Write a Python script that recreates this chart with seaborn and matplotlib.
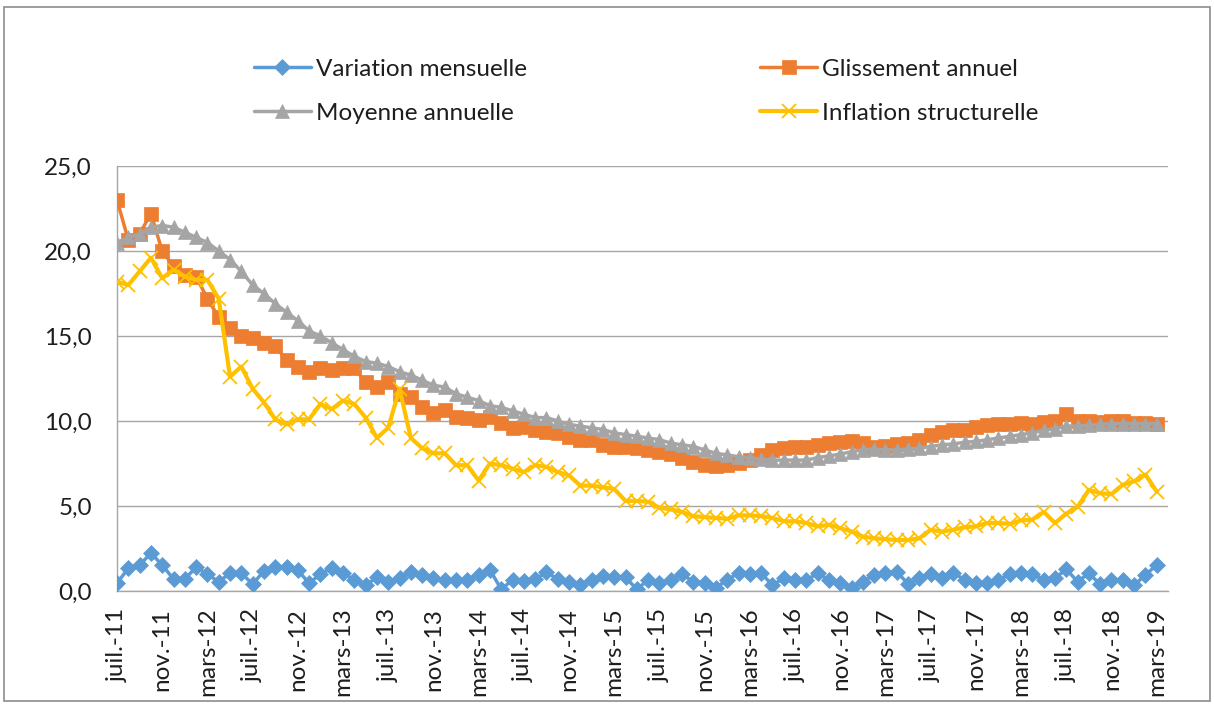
import numpy as np
import pandas as pd
import matplotlib
matplotlib.use("Agg")
import matplotlib.pyplot as plt
import matplotlib.patches as patches
import seaborn as sns

# monthly series, juil.-11 .. mars-19 (93 months)
months = ["janv.", "févr.", "mars", "avr.", "mai", "juin",
          "juil.", "août", "sept.", "oct.", "nov.", "déc."]
labels = ["%s-%02d" % (months[(6 + i) % 12], (11 + (6 + i) // 12)) for i in range(93)]

variation_mensuelle = [
    0.45, 1.35, 1.53, 2.22, 1.53, 0.70, 0.70, 1.40, 1.00, 0.53,
    1.06, 1.06, 0.40, 1.18, 1.41, 1.41, 1.23, 0.45, 1.00, 1.35,
    1.06, 0.65, 0.35, 0.80, 0.53, 0.76, 1.12, 0.94, 0.76, 0.65,
    0.65, 0.65, 0.94, 1.25, 0.10, 0.65, 0.60, 0.70, 1.10, 0.70,
    0.55, 0.35, 0.65, 0.90, 0.80, 0.80, 0.10, 0.65, 0.45, 0.65,
    0.98, 0.55, 0.45, 0.20, 0.65, 1.08, 0.98, 1.04, 0.35, 0.75,
    0.65, 0.65, 1.04, 0.65, 0.45, 0.20, 0.55, 0.94, 1.08, 1.14,
    0.41, 0.75, 0.98, 0.75, 1.08, 0.65, 0.45, 0.45, 0.65, 0.98,
    1.04, 0.98, 0.65, 0.75, 1.28, 0.55, 1.04, 0.39, 0.65, 0.65,
    0.35, 0.94, 1.53]

glissement_annuel = [
    23.0, 20.65, 21.0, 22.2, 20.0, 19.1, 18.6, 18.5, 17.2, 16.1,
    15.5, 15.0, 14.9, 14.6, 14.4, 13.6, 13.2, 12.9, 13.1, 13.0,
    13.1, 13.1, 12.3, 12.0, 12.3, 11.6, 11.4, 10.8, 10.45, 10.65,
    10.25, 10.16, 10.06, 10.25, 9.86, 9.57, 9.67, 9.47, 9.37, 9.27,
    9.08, 8.88, 8.88, 8.59, 8.49, 8.45, 8.4, 8.3, 8.2, 8.05,
    7.8, 7.6, 7.4, 7.35, 7.4, 7.55, 7.7, 8.0, 8.3, 8.4,
    8.45, 8.5, 8.6, 8.7, 8.75, 8.8, 8.7, 8.5, 8.55, 8.65,
    8.7, 8.9, 9.15, 9.35, 9.45, 9.5, 9.65, 9.75, 9.8, 9.85,
    9.9, 9.85, 9.95, 10.0, 10.4, 10.0, 10.0, 9.95, 10.0, 10.0,
    9.9, 9.9, 9.85]

moyenne_annuelle = [
    20.5, 20.8, 21.0, 21.4, 21.5, 21.4, 21.1, 20.8, 20.5, 20.0,
    19.5, 18.8, 18.0, 17.5, 16.9, 16.4, 15.9, 15.3, 15.0, 14.6,
    14.2, 13.8, 13.5, 13.4, 13.2, 12.9, 12.7, 12.4, 12.1, 12.0,
    11.6, 11.4, 11.2, 10.9, 10.8, 10.6, 10.4, 10.2, 10.2, 10.0,
    9.8, 9.7, 9.6, 9.5, 9.3, 9.2, 9.1, 9.0, 8.9, 8.7,
    8.6, 8.5, 8.3, 8.1, 8.0, 7.9, 7.85, 7.75, 7.7, 7.7,
    7.7, 7.7, 7.85, 7.95, 8.05, 8.2, 8.3, 8.35, 8.3, 8.3,
    8.35, 8.4, 8.5, 8.6, 8.65, 8.75, 8.8, 8.9, 9.0, 9.1,
    9.2, 9.3, 9.45, 9.55, 9.7, 9.7, 9.75, 9.8, 9.85, 9.85,
    9.85, 9.85, 9.85]

inflation_structurelle = [
    18.2, 18.0, 18.8, 19.6, 18.4, 18.9, 18.5, 18.3, 18.3, 17.2,
    12.6, 13.2, 11.9, 11.1, 10.1, 9.8, 10.1, 10.1, 11.0, 10.7,
    11.2, 11.0, 10.2, 9.0, 9.6, 11.9, 9.0, 8.4, 8.1, 8.1,
    7.4, 7.4, 6.5, 7.5, 7.4, 7.2, 7.0, 7.4, 7.3, 7.0,
    6.8, 6.2, 6.2, 6.1, 6.0, 5.3, 5.3, 5.25, 4.9, 4.8,
    4.65, 4.4, 4.35, 4.3, 4.25, 4.45, 4.45, 4.4, 4.3, 4.1,
    4.1, 4.0, 3.8, 3.9, 3.7, 3.5, 3.2, 3.1, 3.05, 3.0,
    3.0, 3.1, 3.6, 3.5, 3.6, 3.75, 3.8, 4.0, 4.0, 3.95,
    4.15, 4.2, 4.65, 4.0, 4.55, 4.95, 5.95, 5.75, 5.7, 6.25,
    6.45, 6.85, 5.85]

series = [
    ("Variation mensuelle", variation_mensuelle, "#5B9BD5", "D", 8, 2.5),
    ("Glissement annuel", glissement_annuel, "#ED7D31", "s", 9.5, 2.5),
    ("Moyenne annuelle", moyenne_annuelle, "#A5A5A5", "^", 10, 2.5),
    ("Inflation structurelle", inflation_structurelle, "#FFC000", "x", 10, 3),
]

sns.set_style("white")
plt.rcParams['font.family'] = ['Lato', 'DejaVu Sans']
txt = '#1e1e1e'
fs = 17.5

fig = plt.figure(figsize=(12.14, 7.04), dpi=100)
ax = fig.add_axes([117 / 1214, 1 - 591 / 704, (1168 - 117) / 1214, (591 - 166) / 704])

idx = np.arange(len(labels))
for name, vals, col, mk, ms, lw in series:
    df = pd.DataFrame({"mois": idx, "val": vals})
    sns.lineplot(data=df, x="mois", y="val", ax=ax, color=col, lw=lw,
                 marker=mk, markersize=ms, markeredgecolor=col,
                 markeredgewidth=1.3 if mk == "x" else 0.5, label=name,
                 zorder=3)

ax.set_xlim(0, 93)
ax.set_ylim(0, 25)
yt = [0, 5, 10, 15, 20, 25]
ax.set_yticks(yt)
ax.set_yticklabels([("%.1f" % v).replace(".", ",") for v in yt])
ax.set_xticks(idx[::4])
ax.set_xticklabels(labels[::4], rotation=90)
ax.set_xlabel("")
ax.set_ylabel("")
ax.yaxis.grid(True, color="#a6a6a6", lw=1)
ax.set_axisbelow(True)
for s in ["top", "right"]:
    ax.spines[s].set_visible(False)
for s in ["left", "bottom"]:
    ax.spines[s].set_color("#a6a6a6")
    ax.spines[s].set_linewidth(1)
ax.tick_params(axis="both", which="both", direction="out", length=6,
               color="#a6a6a6", labelsize=fs, labelcolor=txt)
ax.tick_params(axis="y", pad=12)
ax.tick_params(axis="x", pad=6)

h, l = ax.get_legend_handles_labels()
ax.get_legend().remove()
order = [0, 2, 1, 3]
fig.legend([h[i] for i in order], [l[i] for i in order], ncol=2,
           loc="upper left", bbox_to_anchor=(232 / 1214, 1 - 37 / 704),
           frameon=False, fontsize=fs, handlelength=2.35, handletextpad=0.2,
           columnspacing=9.6, labelspacing=0.95, labelcolor=txt)

fig.patches.append(patches.Rectangle((0.003, 0.004), 0.994, 0.986,
                                     transform=fig.transFigure, fill=False,
                                     edgecolor="#8c8c8c", lw=1.2))

fig.savefig("out.png", dpi=100)
